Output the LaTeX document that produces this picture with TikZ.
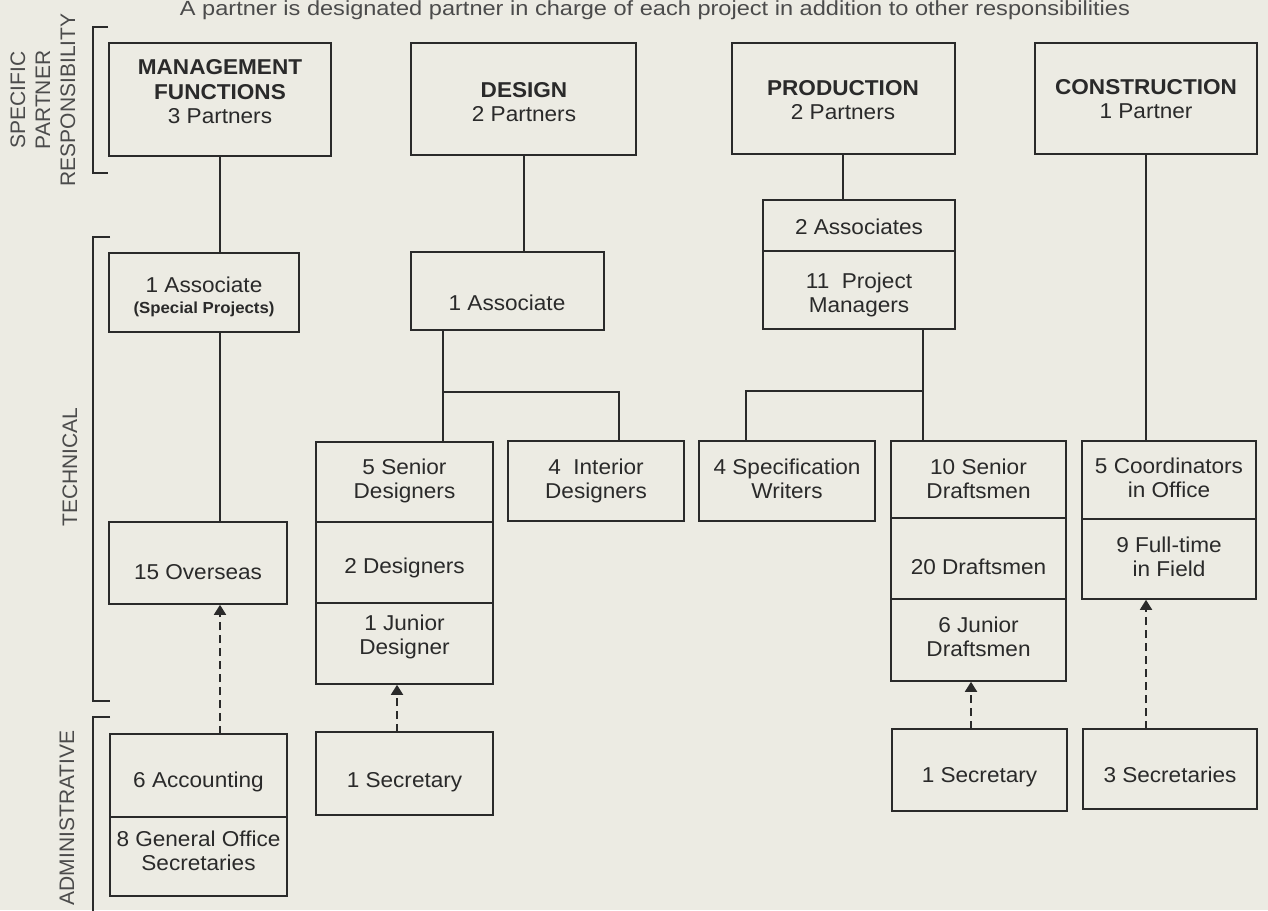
\documentclass[tikz,border=0pt]{standalone}
\usepackage{fontspec}
\setmainfont{Liberation Sans}
\newfontfamily\boxfont{Liberation Sans}[FakeStretch=1.05]
\newfontfamily\lblfont{Liberation Sans}
\newfontfamily\topfont{Liberation Sans}[FakeStretch=1.15]
\usetikzlibrary{arrows.meta,calc}
\definecolor{bg}{RGB}{236,235,227}
\definecolor{ink}{RGB}{42,42,42}
\definecolor{lblc}{RGB}{75,75,75}
\tikzset{
  bx/.style={draw=ink, line width=1.8pt, fill=bg, inner sep=0pt, outer sep=0pt},
  tx/.style={text=ink, font=\boxfont\fontsize{21.5}{24.5}\selectfont, align=center, inner sep=0pt},
  ln/.style={draw=ink, line width=1.8pt},
  dsh/.style={draw=ink, line width=1.8pt, dash pattern=on 8pt off 5pt, -{Triangle[width=12pt,length=10pt]}, shorten >=0.8pt},
  lbl/.style={text=lblc, font=\lblfont\fontsize{21}{25}\selectfont, align=center, rotate=90, inner sep=0pt},
}
\newcommand\mkbox[5]{\node[bx, minimum width={(#4-#2)*1pt}, minimum height={(#5-#3)*1pt}] (#1) at ({(#2+#4)/2},{(#3+#5)/2}) {};}
\begin{document}
\begin{tikzpicture}[x=1pt,y=-1pt]
\fill[bg] (0,0) rectangle (1268,910);
\useasboundingbox (0,0) rectangle (1268,910);

% heading
\node[text=lblc, font=\topfont\fontsize{20.5}{24}\selectfont, anchor=base, inner sep=0pt] (head) at (655,15) {A partner is designated partner in charge of each project in addition to other responsibilities};

% side labels
\node[lbl] (lspec) at (43,100) {SPECIFIC\\PARTNER\\RESPONSIBILITY};
\node[lbl] (ltech) at (70,467) {TECHNICAL};
\node[lbl] (ladmin) at (67,818) {ADMINISTRATIVE};

% brackets
\draw[ln] (108,27) -- (93,27) -- (93,173) -- (108,173);
\draw[ln] (110,237) -- (93,237) -- (93,701) -- (110,701);
\draw[ln] (110,717) -- (93,717) -- (93,912);

% top row
\mkbox{mf}{109}{43}{331}{156}
\mkbox{des}{411}{43}{636}{155}
\mkbox{prod}{732}{43}{955}{154}
\mkbox{cons}{1035}{43}{1257}{154}
\node[tx] (mft) at (220,92) {\textbf{MANAGEMENT}\\\textbf{FUNCTIONS}\\3 Partners};
\node[tx] (dest) at (524,102) {\textbf{DESIGN}\\2 Partners};
\node[tx] (prodt) at (843,100) {\textbf{PRODUCTION}\\2 Partners};
\node[tx] (const) at (1146,99) {\textbf{CONSTRUCTION}\\1 Partner};

% second row
\mkbox{mfa}{109}{253}{299}{332}
\mkbox{desa}{411}{252}{604}{330}
\mkbox{proda1}{763}{200}{955}{251}
\mkbox{proda2}{763}{251}{955}{329}
\node[tx] (mfat) at (204,297) {1 Associate\\[-4pt]{\bfseries\fontsize{16}{18}\selectfont (Special Projects)}};
\node[tx] (desat) at (507,303) {1 Associate};
\node[tx] (proda1t) at (859,227) {2 Associates};
\node[tx] (proda2t) at (859,295) {11~ Project\\Managers};

% third row
\mkbox{ov}{109}{522}{287}{604}
\mkbox{sd1}{316}{442}{493}{522}
\mkbox{sd2}{316}{522}{493}{603}
\mkbox{sd3}{316}{603}{493}{684}
\mkbox{intd}{508}{441}{684}{521}
\mkbox{spec}{699}{441}{875}{521}
\mkbox{dr1}{891}{441}{1066}{518}
\mkbox{dr2}{891}{518}{1066}{599}
\mkbox{dr3}{891}{599}{1066}{681}
\mkbox{co1}{1082}{441}{1256}{519}
\mkbox{co2}{1082}{519}{1256}{599}
\node[tx] (ovt) at (198,572) {15 Overseas};
\node[tx] (sd1t) at (404.5,481) {5 Senior\\Designers};
\node[tx] (sd2t) at (404.5,568) {2 Designers};
\node[tx] (sd3t) at (404.5,637) {1 Junior\\Designer};
\node[tx] (intdt) at (596,481) {4~ Interior\\Designers};
\node[tx] (spect) at (787,479) {4 Specification\\Writers};
\node[tx] (dr1t) at (978.5,479) {10 Senior\\Draftsmen};
\node[tx] (dr2t) at (978.5,567) {20 Draftsmen};
\node[tx] (dr3t) at (978.5,637) {6 Junior\\Draftsmen};
\node[tx] (co1t) at (1169,478) {5 Coordinators\\in Office};
\node[tx] (co2t) at (1169,557) {9 Full-time\\in Field};

% bottom row
\mkbox{acc1}{110}{734}{287}{817}
\mkbox{acc2}{110}{817}{287}{896}
\mkbox{dsec}{316}{732}{493}{815}
\mkbox{psec}{892}{729}{1067}{811}
\mkbox{csec}{1083}{729}{1257}{809}
\node[tx] (acc1t) at (198.5,782) {6 Accounting};
\node[tx] (acc2t) at (198.5,851) {8 General Office\\Secretaries};
\node[tx] (dsect) at (404.5,782) {1 Secretary};
\node[tx] (psect) at (979.5,777) {1 Secretary};
\node[tx] (csect) at (1170,775) {3 Secretaries};

% solid connectors
\coordinate (dv) at (524,0);
\coordinate (pv) at (843,0);
\draw[ln] (mf.south) -- (mf.south |- mfa.north);
\draw[ln] (mf.south |- mfa.south) -- (mf.south |- ov.north);
\draw[ln] (dv |- des.south) -- (dv |- desa.north);
\coordinate (dj) at (443,392);
\coordinate (di) at (619,392);
\draw[ln] (dj |- desa.south) -- (dj |- sd1.north);
\draw[ln] (dj) -- (di) -- (di |- intd.north);
\draw[ln] (pv |- prod.south) -- (pv |- proda1.north);
\coordinate (pj) at (923,391);
\coordinate (ps) at (746,391);
\draw[ln] (pj |- proda2.south) -- (pj |- dr1.north);
\draw[ln] (pj) -- (ps) -- (ps |- spec.north);
\draw[ln] (cons.south) -- (cons.south |- co1.north);

% dashed connectors
\coordinate (dd) at (397,0);
\coordinate (pd) at (971,0);
\draw[dsh] (mf.south |- acc1.north) -- (mf.south |- ov.south);
\draw[dsh] (dd |- dsec.north) -- (dd |- sd3.south);
\draw[dsh] (pd |- psec.north) -- (pd |- dr3.south);
\draw[dsh] (cons.south |- csec.north) -- (cons.south |- co2.south);
\end{tikzpicture}
\end{document}
